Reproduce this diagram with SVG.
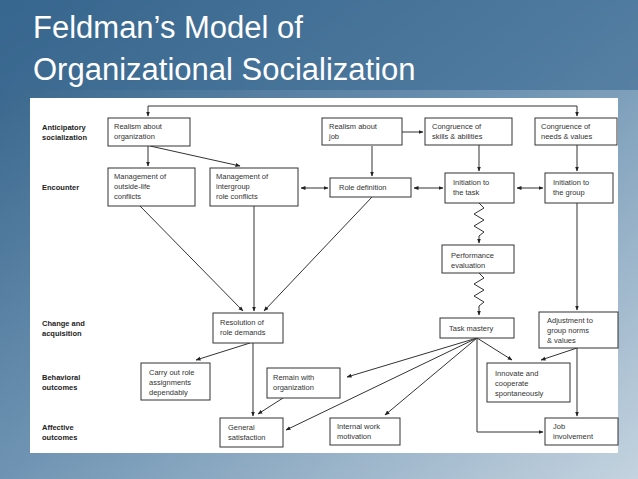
<svg xmlns="http://www.w3.org/2000/svg" width="638" height="479" viewBox="0 0 638 479">
<defs>
<linearGradient id="bg" x1="0" y1="0" x2="1" y2="1">
<stop offset="0" stop-color="#2f5e86"/><stop offset="0.5" stop-color="#6f94b3"/><stop offset="1" stop-color="#c4d3df"/>
</linearGradient>
<marker id="a" viewBox="0 0 10 10" refX="9" refY="5" markerWidth="5" markerHeight="5" orient="auto-start-reverse"><path d="M0,1 L10,5 L0,9 z" fill="#222"/></marker>
<style>
.b rect{fill:#fff;stroke:#333;stroke-width:1}
text{font-family:"Liberation Sans",Arial,sans-serif;font-size:7.5px;fill:#333}
.l{font-weight:bold;fill:#222}
.c path,.c line{fill:none;stroke:#333;stroke-width:1;marker-end:url(#a)}
.t{font-size:31px;fill:#fff}
</style>
</defs>
<rect width="638" height="479" fill="url(#bg)"/>
<rect x="0" y="0" width="638" height="90" fill="#3c6a92" opacity="0.6"/>
<text class="t" x="33" y="38">Feldman’s Model of</text>
<text class="t" x="33" y="80">Organizational Socialization</text>
<rect x="30" y="98" width="588" height="355" fill="#fff"/>
<g id="labels">
<text class="l" x="42" y="130">Anticipatory</text><text class="l" x="42" y="140">socialization</text>
<text class="l" x="42" y="190">Encounter</text>
<text class="l" x="42" y="326">Change and</text><text class="l" x="42" y="336">acquisition</text>
<text class="l" x="42" y="380">Behavioral</text><text class="l" x="42" y="390">outcomes</text>
<text class="l" x="42" y="430">Affective</text><text class="l" x="42" y="440">outcomes</text>
</g>
<g class="c" id="connectors">
<path d="M577,106 H148 V116"/>
<line x1="577" y1="106" x2="577" y2="116"/>
<line x1="148" y1="146" x2="148" y2="166"/>
<line x1="150" y1="146" x2="240" y2="166"/>
<line x1="301" y1="188" x2="328" y2="188" style="marker-start:url(#a)"/>
<line x1="372" y1="146" x2="372" y2="176"/>
<line x1="402" y1="132" x2="423" y2="132"/>
<line x1="479" y1="145" x2="479" y2="171"/>
<line x1="577" y1="145" x2="577" y2="171"/>
<line x1="414" y1="188" x2="443" y2="188" style="marker-start:url(#a)"/>
<line x1="517" y1="188" x2="543" y2="188" style="marker-start:url(#a)"/>
<line x1="140" y1="206" x2="243" y2="311"/>
<line x1="254" y1="206" x2="254" y2="311"/>
<line x1="372" y1="197" x2="264" y2="311"/>
<path d="M479,203 l5,5 l-10,6 l10,6 l-10,6 l10,6 l-5,4 V243"/>
<path d="M479,273 l5,5 l-10,6 l10,6 l-10,6 l10,6 l-5,4 V315"/>
<line x1="577" y1="203" x2="577" y2="310"/>
<line x1="253" y1="343" x2="253" y2="416"/>
<line x1="250" y1="343" x2="196" y2="360"/>
<line x1="477" y1="338" x2="347" y2="377"/>
<line x1="477" y1="338" x2="286" y2="430"/>
<line x1="477" y1="338" x2="385" y2="415"/>
<line x1="477" y1="338" x2="512" y2="360"/>
<path d="M477,338 V432 H543"/>
<line x1="577" y1="348" x2="577" y2="416"/>
<line x1="577" y1="348" x2="541" y2="360"/>
<line x1="283" y1="398" x2="258" y2="414"/>
</g>
<g class="b" id="n1"><rect x="108" y="118" width="82" height="28"/><text x="114" y="129">Realism about</text><text x="114" y="139">organization</text></g>
<g class="b" id="n2"><rect x="108" y="168" width="87" height="38"/><text x="114" y="179">Management of</text><text x="114" y="189">outside-life</text><text x="114" y="199">conflicts</text></g>
<g class="b" id="n3"><rect x="210" y="168" width="88" height="38"/><text x="216" y="179">Management of</text><text x="216" y="189">intergroup</text><text x="216" y="199">role conflicts</text></g>
<g class="b" id="n4"><rect x="330" y="178" width="81" height="19"/><text x="339" y="190">Role definition</text></g>
<g class="b" id="n5"><rect x="322" y="118" width="80" height="27"/><text x="329" y="129">Realism about</text><text x="329" y="139">job</text></g>
<g class="b" id="n6"><rect x="425" y="118" width="87" height="27"/><text x="432" y="129">Congruence of</text><text x="432" y="139">skills &amp; abilities</text></g>
<g class="b" id="n7"><rect x="535" y="118" width="82" height="27"/><text x="541" y="129">Congruence of</text><text x="541" y="139">needs &amp; values</text></g>
<g class="b" id="n8"><rect x="445" y="173" width="69" height="30"/><text x="453" y="185">Initiation to</text><text x="453" y="195">the task</text></g>
<g class="b" id="n9"><rect x="545" y="173" width="68" height="30"/><text x="553" y="185">Initiation to</text><text x="553" y="195">the group</text></g>
<g class="b" id="n10"><rect x="442" y="245" width="72" height="28"/><text x="451" y="258">Performance</text><text x="451" y="268">evaluation</text></g>
<g class="b" id="n11"><rect x="440" y="318" width="74" height="20"/><text x="449" y="331">Task mastery</text></g>
<g class="b" id="n12"><rect x="539" y="312" width="79" height="36"/><text x="547" y="323">Adjustment to</text><text x="547" y="333">group norms</text><text x="547" y="343">&amp; values</text></g>
<g class="b" id="n13"><rect x="213" y="313" width="70" height="30"/><text x="220" y="325">Resolution of</text><text x="220" y="335">role demands</text></g>
<g class="b" id="n14"><rect x="141" y="363" width="69" height="37"/><text x="149" y="375">Carry out role</text><text x="149" y="385">assignments</text><text x="149" y="395">dependably</text></g>
<g class="b" id="n15"><rect x="267" y="368" width="73" height="30"/><text x="273" y="380">Remain with</text><text x="273" y="390">organization</text></g>
<g class="b" id="n16"><rect x="487" y="363" width="83" height="39"/><text x="495" y="376">Innovate and</text><text x="495" y="386">cooperate</text><text x="495" y="396">spontaneously</text></g>
<g class="b" id="n17"><rect x="220" y="418" width="63" height="29"/><text x="228" y="430">General</text><text x="228" y="440">satisfaction</text></g>
<g class="b" id="n18"><rect x="330" y="418" width="70" height="27"/><text x="337" y="429">Internal work</text><text x="337" y="439">motivation</text></g>
<g class="b" id="n19"><rect x="545" y="418" width="73" height="27"/><text x="553" y="429">Job</text><text x="553" y="439">involvement</text></g>
</svg>
